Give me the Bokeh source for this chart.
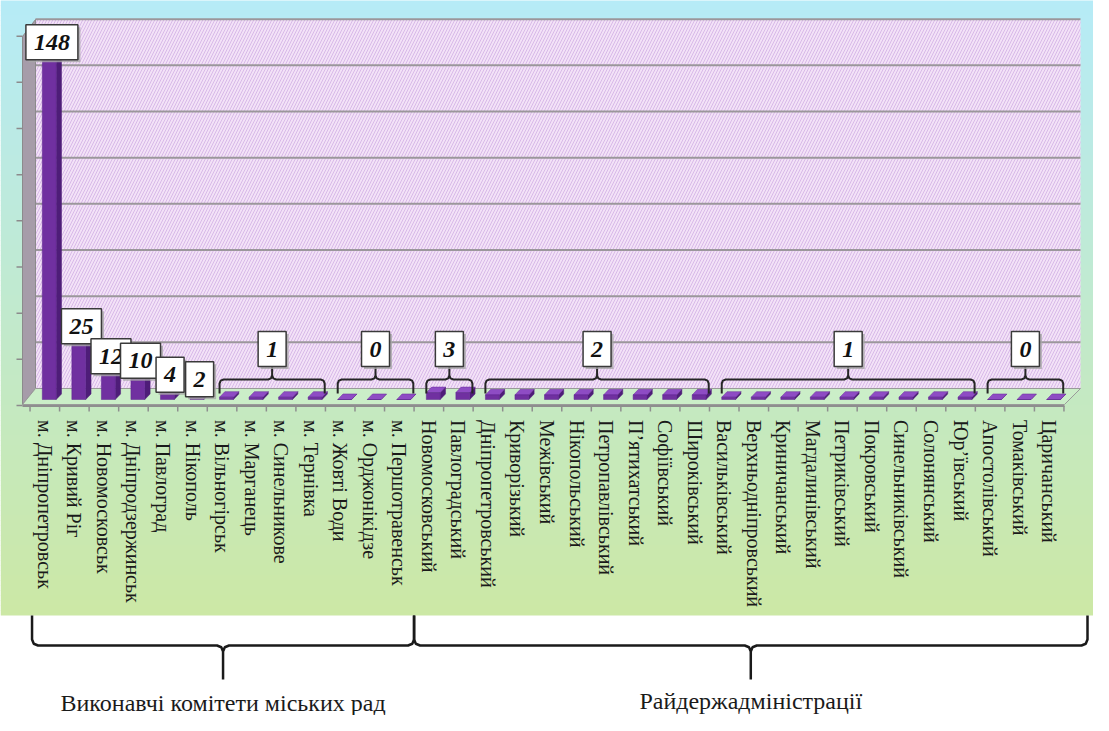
import numpy as np
from bokeh.plotting import figure
from bokeh.models import FactorRange, Range1d, CategoricalAxis, ColumnDataSource
from bokeh.transform import dodge
from bokeh.core.properties import value
from bokeh.embed import file_html
from bokeh.resources import INLINE

# ---------------- data ----------------
city_councils = ["м. Дніпропетровськ", "м. Кривий Ріг", "м. Новомосковськ",
                 "м. Дніпродзержинськ", "м. Павлоград", "м. Нікополь",
                 "м. Вільногірськ", "м. Марганець", "м. Синельникове",
                 "м. Тернівка", "м. Жовті Води", "м. Орджонікідзе",
                 "м. Першотравенськ"]
city_values = [148, 25, 12, 10, 4, 2, 1, 1, 1, 1, 0, 0, 0]

district_admins = ["Новомосковський", "Павлоградський", "Дніпропетровський",
                   "Криворізький", "Межівський", "Нікопольський",
                   "Петропавлівський", "П’ятихатський", "Софіївський",
                   "Широківський", "Васильківський", "Верхньодніпровський",
                   "Криничанський", "Магдалинівський", "Петриківський",
                   "Покровський", "Синельниківський", "Солонянський",
                   "Юр’ївський", "Апостолівський", "Томаківський",
                   "Царичанський"]
district_values = [3, 3, 2, 2, 2, 2, 2, 2, 2, 2, 1, 1, 1, 1, 1, 1, 1, 1, 1, 0, 0, 0]

section_titles = ["Виконавчі комітети міських рад", "Райдержадміністрації"]
grid_values = [20, 40, 60, 80, 100, 120, 140, 160]

categories = city_councils + district_admins
values = city_values + district_values
section_sizes = [len(city_councils), len(district_admins)]
N = len(categories)

# ---------------- geometry helpers (page pixels -> data) ----------------
W, H = 1093, 715
PAD = 1.0
U = W / (N + 2 * PAD)          # px per category
K = 2.3085                      # px per value unit
Y0 = 407.0                      # page y of value 0 (bar front base)


def fx(px):
    return -PAD + (px - 8) / U


def fy(py):
    return (Y0 - py) / K


def px_of(s):
    return 8 + (s + PAD) * U


FONT = value("Liberation Serif")

p = figure(x_range=FactorRange(factors=categories, range_padding=PAD,
                               range_padding_units="absolute"),
           y_range=Range1d(fy(8 + H), fy(8)),
           width=W, height=H, output_backend="svg", toolbar_location=None,
           x_axis_location=None, y_axis_location=None, min_border=0,
           outline_line_color=None, background_fill_color="white",
           border_fill_color="white")
p.grid.grid_line_color = None

# ---------------- background gradient ----------------
nb = 123
edges = np.linspace(8, 623, nb + 1)
c_top = np.array([182, 235, 247])
c_bot = np.array([204, 232, 165])
band_cols = []
for i in range(nb):
    t = ((edges[i] + edges[i + 1]) / 2 - 8) / 615
    c = c_top + (c_bot - c_top) * t
    band_cols.append("#%02x%02x%02x" % tuple(int(round(v)) for v in c))
p.quad(left=fx(8), right=fx(8 + W),
       top=[fy(e - 0.6) for e in edges[:-1]],
       bottom=[fy(e) for e in edges[1:]],
       fill_color=band_cols, line_color=None)

# ---------------- back wall, side wall, floor ----------------
p.quad(left=fx(43), right=fx(1088), top=fy(27), bottom=fy(396),
       fill_color="#f3e2f7", line_color=None,
       hatch_pattern="/", hatch_color="#d8b9e8", hatch_scale=6, hatch_weight=1)
wall_dy = (Y0 - 396) / K
p.segment(x0=fx(43), x1=fx(1088), y0=[v + wall_dy for v in grid_values],
          y1=[v + wall_dy for v in grid_values], line_color="#9b979b", line_width=2)
p.patch(x=[fx(30), fx(43), fx(43), fx(30)], y=[fy(44), fy(27), fy(396), fy(412)],
        fill_color="#a69ca9", line_color="#8c8a8c", line_width=1)
front_dy = (413 - Y0) / K
p.segment(x0=fx(24), x1=fx(30), y0=[v - front_dy for v in [0] + grid_values],
          y1=[v - front_dy for v in [0] + grid_values], line_color="#8c8a8c", line_width=1.5)
p.patch(x=[fx(30), fx(43), fx(1088), fx(1072)], y=[fy(412), fy(396), fy(396), fy(412)],
        fill_color="#cbeec8", line_color="#9a9a9a", line_width=1)

# axis line and between-category ticks
p.segment(x0=fx(30), x1=fx(1072), y0=fy(413.5), y1=fy(413.5), line_color="#8e8e8e", line_width=2)
p.segment(x0=list(range(N + 1)), x1=list(range(N + 1)), y0=fy(413.5), y1=fy(419),
          line_color="#8e8e8e", line_width=1.5)

# ---------------- 3D bars ----------------
BAR_SHIFT, BW, DX, DY = 0.15, 0.47, 0.18, 2.4
src = ColumnDataSource(dict(category=categories, value=values))
centers = [i + 0.5 + BAR_SHIFT for i in range(N)]
p.patches(xs=[[c + BW / 2, c + BW / 2 + DX, c + BW / 2 + DX, c + BW / 2] for c in centers],
          ys=[[0, DY, v + DY, v] for v in values],
          fill_color="#4e1d78", line_color="#4e1d78", line_width=0.5)
p.patches(xs=[[c - BW / 2, c + BW / 2, c + BW / 2 + DX, c - BW / 2 + DX] for c in centers],
          ys=[[v, v, v + DY, v + DY] for v in values],
          fill_color="#8e4cc4", line_color="#6a2a9a", line_width=0.5)
p.vbar(x=dodge("category", BAR_SHIFT, range=p.x_range), top="value", bottom=0,
       width=BW, source=src, fill_color="#7030a0", line_color="#5d2590", line_width=0.5)

# ---------------- value labels ----------------
base_style = dict(text_font=FONT, text_font_style="bold italic", text_font_size="24px",
                  padding=dict(x=8, y=10), text_align="center", text_baseline="bottom")
label_style = dict(base_style, text_color="#111111", background_fill_color="white",
                   border_line_color="#3a3a3a", border_line_width=1.5)
shadow_style = dict(base_style, text_color="#a8a8a8", background_fill_color="#a8a8a8",
                    background_fill_alpha=0.8, border_line_color=None)

single_x, single_y, single_t = [], [], []
group_x, group_t = [], []
brace_xs, brace_ys = [], []


def brace_path(x0, x1, xm, yend, yline, ystem, r):
    s = 1 if ystem > yline else -1
    q = 0.29 * r
    left = [(x0, yend), (x0, yline - s * r), (x0 + q, yline - s * q), (x0 + r, yline),
            (xm - r, yline), (xm - q, yline + s * q), (xm, yline + s * r), (xm, ystem)]
    right = [(xm, yline + s * r), (xm + q, yline + s * q), (xm + r, yline),
             (x1 - r, yline), (x1 - q, yline - s * q), (x1, yline - s * r), (x1, yend)]
    return left + right


start = 0
for size in section_sizes:
    i = start
    while i < start + size:
        j = i
        while j + 1 < start + size and values[j + 1] == values[i]:
            j += 1
        if j == i:
            single_x.append(centers[i] + DX / 2)
            single_y.append(values[i] + DY - 7.5 / K)
            single_t.append(str(values[i]))
        else:
            a = px_of(centers[i] - BW / 2)
            b = px_of(centers[j] + BW / 2 + DX / 2)
            m = (a + b) / 2
            group_x.append(fx(m))
            group_t.append(str(values[i]))
            pts = brace_path(a, b, m, 401, 387, 369, 4)
            brace_xs.append([fx(x) for x, y in pts])
            brace_ys.append([fy(y) for x, y in pts])
        i = j + 1
    start += size

all_x = single_x + group_x
all_y = single_y + [fy(374)] * len(group_x)
all_t = single_t + group_t

p.multi_line(xs=brace_xs, ys=brace_ys, line_color="#262626", line_width=2)
for x_, y_, t_ in zip(all_x, all_y, all_t):
    p.text(x=[x_ + 2.5 / U], y=[y_ - 2.5 / K], text=[t_], **shadow_style)
    p.text(x=[x_], y=[y_], text=[t_], **label_style)

# ---------------- category axis ----------------
xaxis = CategoricalAxis(fixed_location=fy(413.5), major_label_orientation="vertical",
                        major_label_text_font="Liberation Serif",
                        major_label_text_font_size="20px",
                        major_label_text_color="#1a1a1a",
                        major_tick_line_color=None, axis_line_color=None,
                        major_label_standoff=8)
p.add_layout(xaxis, "below")

# ---------------- section braces and titles ----------------
bounds_px = [px_of(0) + 2, px_of(section_sizes[0]), 1095]
sec_x, sec_y = [], []
bxs, bys = [], []
for k in range(len(section_sizes)):
    a, b = bounds_px[k], bounds_px[k + 1]
    m = (a + b) / 2
    pts = brace_path(a, b, m, 623, 653, 687, 6)
    bxs.append([fx(x) for x, y in pts])
    bys.append([fy(y) for x, y in pts])
    sec_x.append(fx(m))
    sec_y.append(fy(710 - 2 * k))
p.multi_line(xs=bxs, ys=bys, line_color="#1a1a1a", line_width=2.5)
p.text(x=sec_x, y=sec_y, text=section_titles, text_font=FONT, text_font_size="24px",
       text_color="#1a1a1a", text_align="center", text_baseline="middle")

open("out.html", "w").write(file_html(p, INLINE))
